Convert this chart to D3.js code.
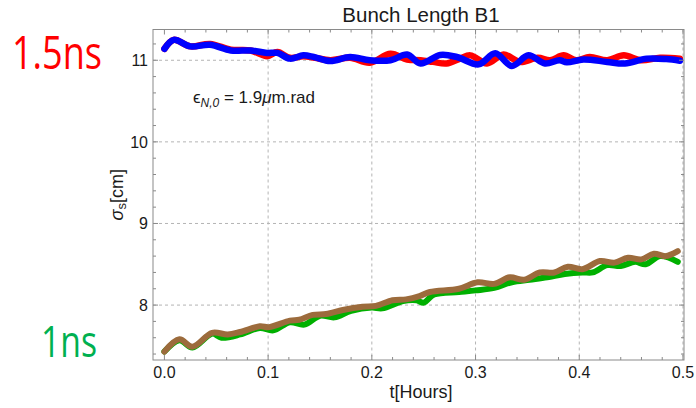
<!DOCTYPE html>
<html><head><meta charset="utf-8">
<script src="https://cdn.jsdelivr.net/npm/d3@7"></script>
<style>body{margin:0;background:#fff}svg{display:block}</style>
</head><body>
<svg id="c" width="696" height="408"></svg>
<script>
// Data (t in hours, sigma_s in cm)
const redT = [0,0.009,0.025,0.044,0.064,0.083,0.099,0.109,0.121,0.134,0.145,0.16,0.179,0.198,0.218,0.234,0.247,0.259,0.272,0.285,0.295,0.311,0.327,0.343,0.36,0.372,0.385,0.397,0.41,0.427,0.443,0.459,0.478,0.497];
const redV = [11.14,11.25,11.17,11.2,11.13,11.12,11.05,11.1,11.03,11.05,11.03,11.0,11.03,10.97,11.08,11.01,11.0,10.98,10.96,11.02,11.06,10.96,11.07,10.98,11.03,11.0,11.06,11.0,11.04,11.0,11.06,11.0,11.03,11.02];
const blueT = [0,0.009,0.025,0.044,0.064,0.083,0.099,0.109,0.121,0.134,0.144,0.16,0.179,0.198,0.218,0.234,0.247,0.266,0.282,0.303,0.319,0.335,0.351,0.367,0.381,0.388,0.404,0.427,0.444,0.465,0.484,0.497];
const blueV = [11.14,11.25,11.17,11.19,11.12,11.12,11.09,11.09,11.02,11.06,11.04,10.99,11.04,11.0,11.0,11.07,10.96,11.065,11.04,10.95,11.085,10.93,11.06,10.96,11.0,10.975,11.01,10.98,10.96,11.02,11.015,10.995];
const greenT = [0,0.0145,0.027,0.046,0.055,0.073,0.092,0.105,0.121,0.135,0.15,0.164,0.18,0.2,0.21,0.23,0.243,0.25,0.26,0.284,0.3,0.318,0.335,0.352,0.369,0.386,0.403,0.413,0.427,0.44,0.454,0.464,0.478,0.495];
const greenV = [7.43,7.57,7.48,7.65,7.60,7.64,7.72,7.69,7.79,7.76,7.87,7.85,7.93,7.97,7.96,8.05,8.06,8.03,8.13,8.16,8.18,8.21,8.28,8.31,8.34,8.38,8.40,8.40,8.49,8.48,8.53,8.50,8.6,8.53];
const brownT = [0,0.0145,0.027,0.046,0.061,0.073,0.092,0.101,0.121,0.13,0.143,0.156,0.172,0.191,0.204,0.22,0.233,0.246,0.256,0.284,0.302,0.318,0.333,0.347,0.362,0.376,0.389,0.403,0.42,0.434,0.447,0.46,0.472,0.483,0.495];
const brownV = [7.43,7.58,7.49,7.66,7.64,7.67,7.74,7.73,7.81,7.82,7.88,7.89,7.94,7.98,7.99,8.06,8.07,8.11,8.16,8.2,8.28,8.26,8.34,8.31,8.40,8.40,8.47,8.44,8.54,8.52,8.58,8.56,8.63,8.6,8.66];
const xTicks = [0,0.1,0.2,0.3,0.4,0.5];
const xTickLabels = ["0.0","0.1","0.2","0.3","0.4","0.5"];
const yTicks = [8,9,10,11];
const yTickLabels = ["8","9","10","11"];

const svg = d3.select("#c");
const L=153, R=684, T=29.5, B=360;
const x = d3.scaleLinear().domain([-0.011,0.501]).range([L,R]);
const y = d3.scaleLinear().domain([7.327,11.377]).range([B,T]);

// grid
const grid = svg.append("g").attr("stroke","#b4b4b4").attr("stroke-width",1).attr("stroke-dasharray","3,3");
xTicks.filter(t=>t>0).forEach(t=>grid.append("line").attr("x1",x(t)).attr("x2",x(t)).attr("y1",T).attr("y2",B));
yTicks.forEach(v=>grid.append("line").attr("x1",L).attr("x2",R).attr("y1",y(v)).attr("y2",y(v)));

// curves
const line = d3.line().x(d=>x(d[0])).y(d=>y(d[1])).curve(d3.curveCatmullRom.alpha(0.5));
const series = [
  {t:redT,v:redV,c:"#ff0000",w:6.5},
  {t:blueT,v:blueV,c:"#0000ff",w:6.5},
  {t:greenT,v:greenV,c:"#00b000",w:6},
  {t:brownT,v:brownV,c:"#9c6b3c",w:6}
];
svg.append("clipPath").attr("id","cp").append("rect").attr("x",L).attr("y",T).attr("width",R-L).attr("height",B-T);
const lg = svg.append("g").attr("clip-path","url(#cp)");
series.forEach(s=>{
  lg.append("path").attr("d",line(s.t.map((t,i)=>[t,s.v[i]])))
    .attr("fill","none").attr("stroke",s.c).attr("stroke-width",s.w)
    .attr("stroke-linejoin","round").attr("stroke-linecap","round");
});

// frame
svg.append("rect").attr("x",L).attr("y",T).attr("width",R-L).attr("height",B-T)
  .attr("fill","none").attr("stroke","#8a8a8a").attr("stroke-width",1);

// ticks
const tg = svg.append("g").attr("stroke","#8a8a8a").attr("stroke-width",1);
d3.range(0,0.5001,0.02).forEach(t=>{
  const maj = Math.abs(t*10-Math.round(t*10))<1e-6;
  const len = maj?5:3;
  tg.append("line").attr("x1",x(t)).attr("x2",x(t)).attr("y1",B).attr("y2",B-len);
  tg.append("line").attr("x1",x(t)).attr("x2",x(t)).attr("y1",T).attr("y2",T+len);
});
d3.range(7.4,11.3001,0.2).forEach(v=>{
  const maj = Math.abs(v-Math.round(v))<1e-6;
  const len = maj?5:3;
  tg.append("line").attr("x1",L).attr("x2",L+len).attr("y1",y(v)).attr("y2",y(v));
  tg.append("line").attr("x1",R).attr("x2",R-len).attr("y1",y(v)).attr("y2",y(v));
});

const font = "'Liberation Sans', Arial, sans-serif";
// tick labels
xTicks.forEach((t,i)=>svg.append("text").attr("x",x(t)).attr("y",378).attr("text-anchor","middle")
  .attr("font-family",font).attr("font-size",16).attr("fill","#1a1a1a").text(xTickLabels[i]));
yTicks.forEach((v,i)=>svg.append("text").attr("x",L-5).attr("y",y(v)+6).attr("text-anchor","end")
  .attr("font-family",font).attr("font-size",16).attr("fill","#1a1a1a").text(yTickLabels[i]));

// title and axis labels
svg.append("text").attr("x",421).attr("y",22).attr("text-anchor","middle")
  .attr("font-family",font).attr("font-size",20.5).attr("fill","#1a1a1a").text("Bunch Length B1");
svg.append("text").attr("x",421).attr("y",398).attr("text-anchor","middle")
  .attr("font-family",font).attr("font-size",18).attr("fill","#1a1a1a").text("t[Hours]");
const yl = svg.append("text").attr("transform",`translate(123,${(T+B)/2}) rotate(-90)`).attr("text-anchor","middle")
  .attr("font-family",font).attr("font-size",18).attr("fill","#1a1a1a");
yl.append("tspan").attr("font-style","italic").text("σ");
yl.append("tspan").attr("font-size",13).attr("dy",3).text("s");
yl.append("tspan").attr("dy",-3).text("[cm]");

// annotation
const an = svg.append("text").attr("x",193).attr("y",103).attr("font-family",font).attr("font-size",17).attr("fill","#1a1a1a");
an.append("tspan").text("ϵ");
an.append("tspan").attr("font-size",12).attr("font-style","italic").attr("dy",4).text("N,0");
an.append("tspan").attr("dy",-4).text(" = 1.9");
an.append("tspan").attr("font-style","italic").text("μ");
an.append("tspan").text("m.rad");

// side labels
svg.append("text").attr("x",12).attr("y",69).attr("font-family","'Open Sans', Lato, sans-serif").attr("font-size",46)
  .attr("fill","#ff0000").attr("textLength",90).attr("lengthAdjust","spacingAndGlyphs").text("1.5ns");
svg.append("text").attr("x",41).attr("y",357).attr("font-family","'Open Sans', Lato, sans-serif").attr("font-size",44)
  .attr("fill","#00b050").attr("textLength",56).attr("lengthAdjust","spacingAndGlyphs").text("1ns");
</script>
</body></html>
